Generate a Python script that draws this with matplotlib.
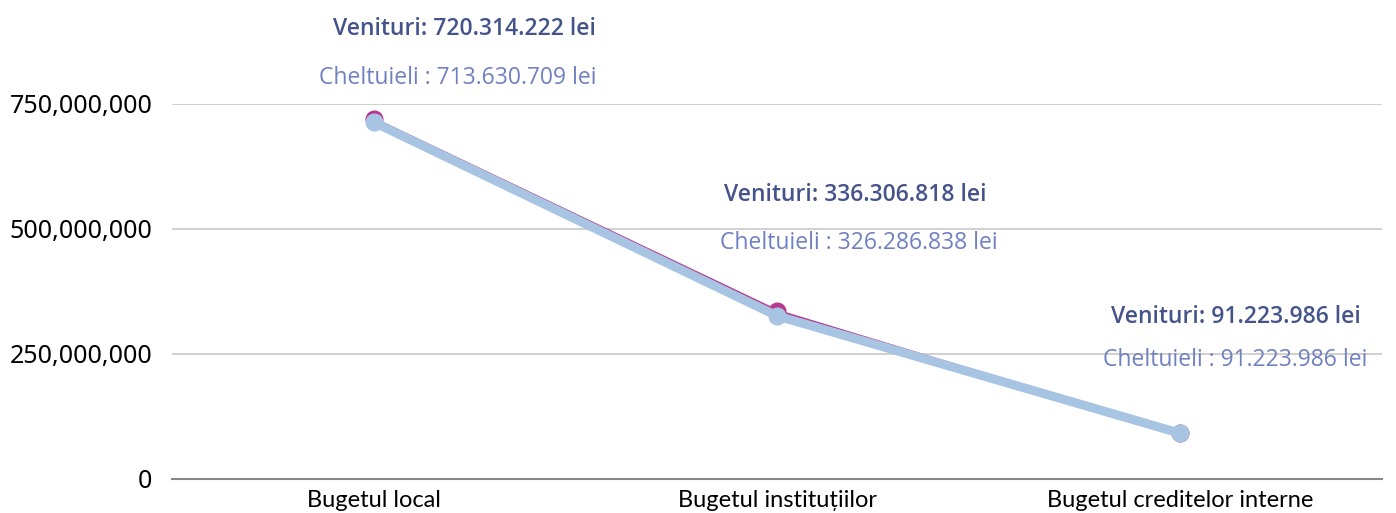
import matplotlib.pyplot as plt

categories = ["Bugetul local", "Bugetul instituțiilor", "Bugetul creditelor interne"]
venituri = [720314222, 336306818, 91223986]
cheltuieli = [713630709, 326286838, 91223986]
venituri_txt = ["720.314.222", "336.306.818", "91.223.986"]
cheltuieli_txt = ["713.630.709", "326.286.838", "91.223.986"]
yticks = [0, 250000000, 500000000, 750000000]

fig = plt.figure(figsize=(13.96, 5.13), dpi=100)
ax = fig.add_axes([0.1232, 0.0663, 0.8668, 0.7310])

x = list(range(len(categories)))
ax.plot(x, venituri, color="#B5388E", lw=2, marker="o", ms=12, zorder=3)
ax.plot(x, cheltuieli, color="#A7C4E2", lw=6.5, marker="o", ms=12,
        solid_capstyle="round", zorder=4)

# label positions (x offset from category, y in data units)
pos_v = [(0.226, 900e6), (0.195, 568e6), (0.137, 324e6)]
pos_c = [(0.209, 802e6), (0.203, 472e6), (0.137, 238e6)]
for i in x:
    ax.text(i + pos_v[i][0], pos_v[i][1],
            "Venituri: " + venituri_txt[i] + " lei",
            ha="center", va="center", fontsize=16.5, color="#44538A",
            family="Open Sans", fontweight="semibold", clip_on=False)
    ax.text(i + pos_c[i][0], pos_c[i][1],
            "Cheltuieli : " + cheltuieli_txt[i] + " lei",
            ha="center", va="center", fontsize=16.5, color="#7080C0",
            family="Open Sans", clip_on=False)

ax.set_xlim(-0.5, 2.5)
ax.set_ylim(0, 750000000)
ax.set_xticks(x)
ax.set_xticklabels(categories, fontsize=17, family="Lato")
ax.set_yticks(yticks)
ax.set_yticklabels([f"{v:,}" for v in yticks], fontsize=18, family="Noto Sans")
ax.tick_params(length=0)
ax.tick_params(axis="x", pad=8)
ax.tick_params(axis="y", pad=14)
ax.grid(axis="y", color="#C8C8C8", lw=1.2)
ax.set_axisbelow(True)
for s in ["top", "right", "left"]:
    ax.spines[s].set_visible(False)
ax.spines["bottom"].set_color("#888888")
ax.spines["bottom"].set_linewidth(1.5)

fig.savefig("out.png", dpi=100)
